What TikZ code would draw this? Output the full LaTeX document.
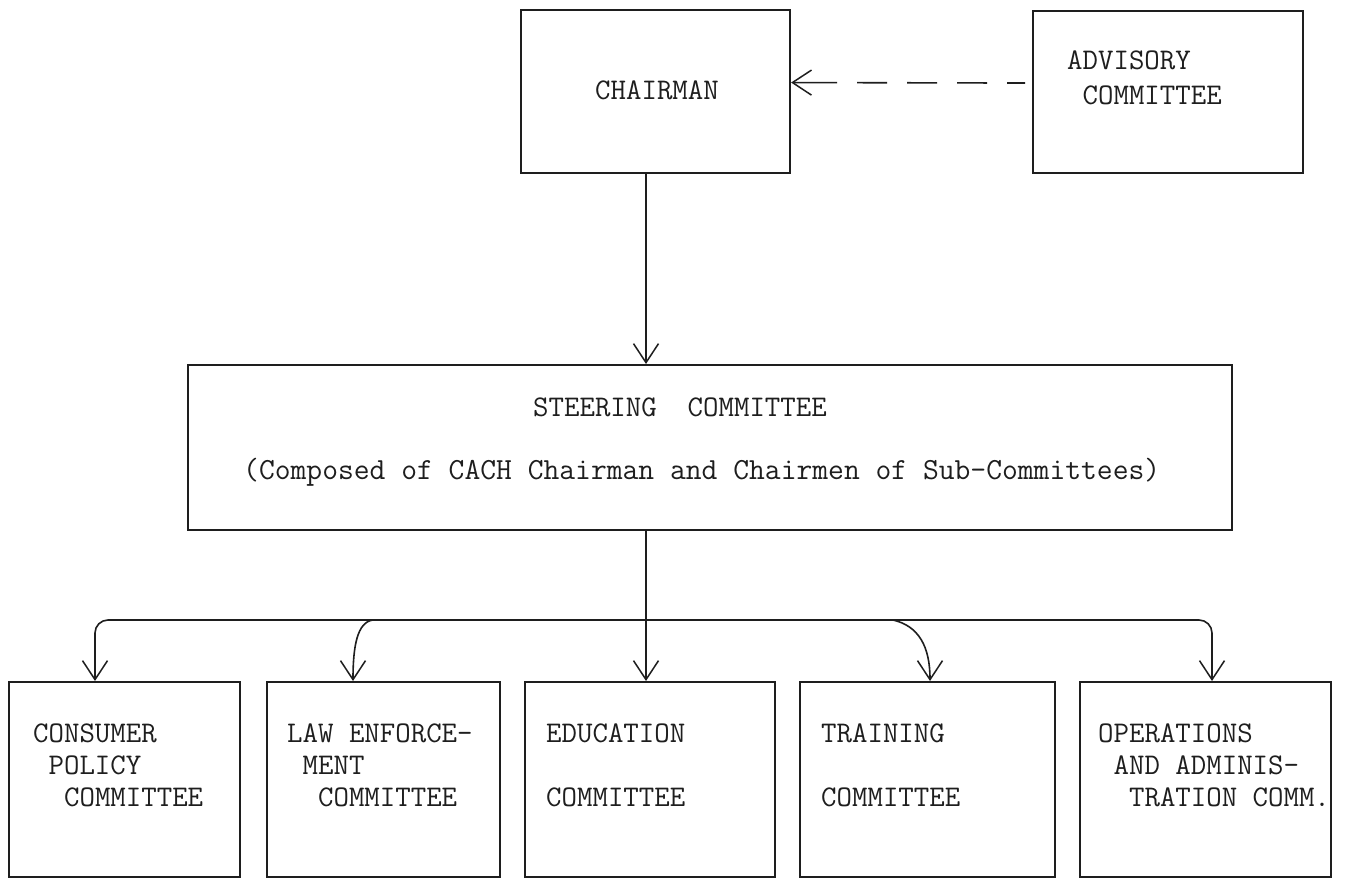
\documentclass[tikz,border=0pt]{standalone}
\usepackage{fontspec}
\usetikzlibrary{arrows.meta}
\definecolor{ink}{HTML}{1E1E1E}
\begin{document}
\begin{tikzpicture}[x=1pt,y=-1pt,
  box/.style={draw=ink, line width=2.1pt, rectangle, inner sep=0pt, anchor=north west},
  lbl/.style={text=ink, font=\ttfamily\fontsize{30}{32}\selectfont, inner sep=0pt, align=left, anchor=west},
  tip/.style={-{Straight Barb[length=19pt,width=25pt,line width=1.5pt]}},
  link/.style={draw=ink, line width=1.6pt, tip},
]
\fill[white] (0,0) rectangle (1347,878);
\useasboundingbox (0,0) rectangle (1347,878);

% top row
\node[box, minimum width=269pt, minimum height=163pt] (chairman) at (520,9) {};
\node[box, minimum width=270pt, minimum height=162pt] (advisory) at (1032,10) {};
\node[lbl] (chairman-t) at (595,90) {CHAIRMAN};
\node[lbl, font=\ttfamily\fontsize{30}{35}\selectfont] (advisory-t) at (1067,77.5)
  {ADVISORY\\\phantom{X}COMMITTEE};

% steering committee
\node[box, minimum width=1044pt, minimum height=165pt] (steering) at (187,364) {};
\node[lbl] (steering-t) at (533,407) {STEERING~~COMMITTEE};
\node[lbl, font=\ttfamily\fontsize{30.7}{32}\selectfont] (steering-sub) at (243,472)
  {(Composed of CACH Chairman and Chairmen of Sub-Committees)};

% sub-committees
\node[box, minimum width=231pt, minimum height=195pt] (consumer) at (8,681) {};
\node[box, minimum width=233pt, minimum height=195pt] (law) at (266,681) {};
\node[box, minimum width=250pt, minimum height=195pt] (education) at (524,681) {};
\node[box, minimum width=255pt, minimum height=195pt] (training) at (799,681) {};
\node[box, minimum width=251pt, minimum height=195pt] (ops) at (1079,681) {};

\node[lbl] (consumer-t) at (33,765) {CONSUMER\\\phantom{X}POLICY\\\phantom{XX}COMMITTEE};
\node[lbl] (law-t) at (287,765) {LAW ENFORCE-\\\phantom{X}MENT\\\phantom{XX}COMMITTEE};
\node[lbl] (education-t) at (546,765) {EDUCATION\\[32pt]COMMITTEE};
\node[lbl] (training-t) at (821,765) {TRAINING\\[32pt]COMMITTEE};
\node[lbl] (ops-t) at (1098,765) {OPERATIONS\\\phantom{X}AND ADMINIS-\\\phantom{XX}TRATION COMM.};

% connectors
\coordinate (bus) at (646,620);
\coordinate (lawj) at (373,620);
\coordinate (trainj) at (893,620);

\draw[link] (chairman.south -| bus) -- (steering.north -| bus);
\draw[draw=ink, line width=1.6pt, {Straight Barb[length=19pt,width=25pt,line width=1.5pt]}-,
      dash pattern=on 44pt off 20pt on 30pt off 20pt on 30pt off 20pt on 30pt off 20pt,
      shorten >=7pt]
  ([yshift=9pt]chairman.east) -- ([yshift=9pt]advisory.west);

\draw[link] (steering.south -| bus) -- (education.north -| bus);
\draw[link, rounded corners=13pt] (bus) -| ([xshift=87pt]consumer.north west);
\draw[link, rounded corners=13pt] (bus) -| ([xshift=133pt]ops.north west);
\draw[link] (lawj) .. controls +(-16,2) and +(0,-34) .. ([xshift=87pt]law.north west);
\draw[link] (trainj) .. controls +(26,6) and +(0,-34) .. ([xshift=131pt]training.north west);
\end{tikzpicture}
\end{document}
